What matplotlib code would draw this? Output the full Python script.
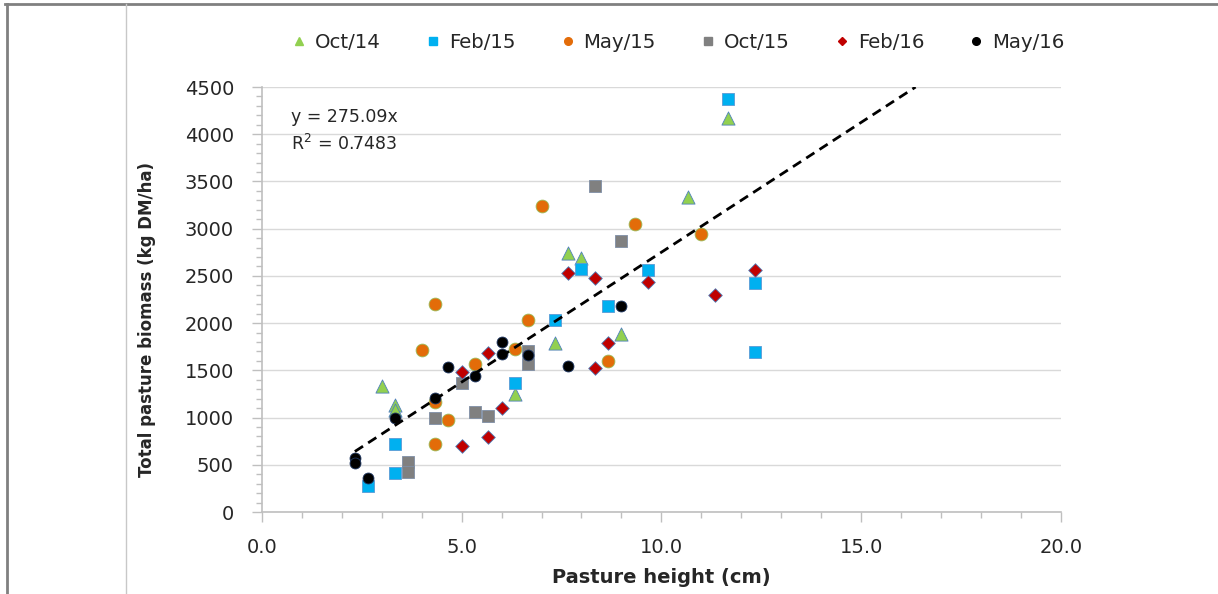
import matplotlib
matplotlib.use("Agg")
import matplotlib.pyplot as plt
from matplotlib.lines import Line2D
import numpy as np

plt.rcParams['font.family'] = ['DejaVu Sans']

# ---- data ----
series_names = ["Oct/14", "Feb/15", "May/15", "Oct/15", "Feb/16", "May/16"]

oct14_x = [3.0, 3.33, 3.33, 6.33, 7.33, 7.67, 8.0, 9.0, 10.67, 11.67]
oct14_y = [1330, 1135, 1085, 1245, 1790, 2740, 2690, 1890, 3340, 4175]

feb15_x = [2.67, 3.33, 3.33, 6.33, 7.33, 8.0, 8.67, 9.67, 11.67, 12.33, 12.33]
feb15_y = [280, 415, 725, 1370, 2030, 2570, 2180, 2565, 4370, 2430, 1690]

may15_x = [4.0, 4.33, 4.33, 4.33, 4.67, 5.33, 6.33, 6.67, 7.0, 8.67, 9.33, 11.0]
may15_y = [1720, 2200, 1160, 725, 975, 1565, 1730, 2030, 3245, 1600, 3050, 2945]

oct15_x = [3.67, 3.67, 4.33, 5.0, 5.33, 5.67, 6.67, 6.67, 8.33, 9.0]
oct15_y = [530, 425, 1000, 1370, 1060, 1020, 1700, 1570, 3450, 2870]

feb16_x = [5.0, 5.0, 5.67, 5.67, 6.0, 7.67, 8.33, 8.33, 8.67, 9.67, 11.33, 12.33]
feb16_y = [1480, 695, 1680, 790, 1100, 2530, 2480, 1520, 1790, 2440, 2295, 2565]

may16_x = [2.33, 2.33, 2.67, 3.33, 4.33, 4.67, 5.33, 6.0, 6.0, 6.67, 7.67, 9.0]
may16_y = [570, 520, 355, 1000, 1205, 1540, 1440, 1795, 1670, 1660, 1550, 2180]

trend_slope = 275.09
trend_r2 = 0.7483

x_ticks = [0.0, 5.0, 10.0, 15.0, 20.0]
y_ticks = [0, 500, 1000, 1500, 2000, 2500, 3000, 3500, 4000, 4500]

# ---- styles ----
styles = [
    dict(marker="^", color="#92D050", edge="#4F81BD", s=90),
    dict(marker="s", color="#00B0F0", edge="#5B9BD5", s=75),
    dict(marker="o", color="#E36C09", edge="#9BBB59", s=85),
    dict(marker="s", color="#808080", edge="#7F8FA6", s=75),
    dict(marker="D", color="#C00000", edge="#4F81BD", s=48),
    dict(marker="o", color="#000000", edge="#1F3864", s=62),
]
all_x = [oct14_x, feb15_x, may15_x, oct15_x, feb16_x, may16_x]
all_y = [oct14_y, feb15_y, may15_y, oct15_y, feb16_y, may16_y]

fig = plt.figure(figsize=(12.18, 5.94), dpi=100)
ax = fig.add_axes([0.2149, 0.1380, 0.6563, 0.7155])

handles = []
for name, xs, ys, st in zip(series_names, all_x, all_y, styles):
    ax.scatter(xs, ys, marker=st["marker"], s=st["s"], facecolor=st["color"],
               edgecolor=st["edge"], linewidths=0.6, zorder=3)
    handles.append(Line2D([], [], linestyle="none", marker=st["marker"],
                          markerfacecolor=st["color"], markeredgecolor=st["color"],
                          markersize=5.5 if st["marker"] != "D" else 4.5, label=name))

# trendline
xmin = min(min(v) for v in all_x)
tx = np.array([xmin, 4500 / trend_slope])
ax.plot(tx, trend_slope * tx, color="black", lw=2.0, ls=(0, (3.5, 2.2)), zorder=4)

ax.text(0.036, 0.95, f"y = {trend_slope}x\nR$^2$ = {trend_r2}", transform=ax.transAxes,
        fontsize=12.5, va="top", ha="left", color="#262626", linespacing=1.45)

ax.set_xlim(0, 20)
ax.set_ylim(0, 4500)
ax.set_xticks(x_ticks)
ax.set_xticklabels([f"{v:.1f}" for v in x_ticks])
ax.set_yticks(y_ticks)
ax.set_xticks(np.arange(0, 20.01, 1.0), minor=True)
ax.set_yticks(np.arange(0, 4501, 100), minor=True)

ax.grid(axis="y", which="major", color="#D9D9D9", lw=1.0)
ax.set_axisbelow(True)
for sp in ["top", "right"]:
    ax.spines[sp].set_visible(False)
for sp in ["left", "bottom"]:
    ax.spines[sp].set_color("#BFBFBF")
    ax.spines[sp].set_linewidth(1.2)

ax.tick_params(axis="both", which="major", length=7, width=1, color="#BFBFBF",
               labelsize=14, labelcolor="#262626", pad=13)
ax.tick_params(axis="both", which="minor", length=4, width=1, color="#BFBFBF")
ax.tick_params(axis="x", which="major", pad=12)

ax.set_xlabel("Pasture height (cm)", fontsize=14, fontweight="bold", color="#262626",
              va="center")
ax.xaxis.set_label_coords(0.5, -0.155)
ax.set_ylabel("Total pasture biomass (kg DM/ha)", fontsize=12, fontweight="bold",
              color="#262626", va="center")
ax.yaxis.set_label_coords(-0.143, 0.452)

fig.legend(handles=handles, loc="center", bbox_to_anchor=(0.557, 0.928), ncol=6,
           frameon=False, fontsize=14.2, handlelength=0.7, handletextpad=0.45,
           columnspacing=2.3, labelcolor="#262626")

# frame lines from the page
fig.add_artist(Line2D([0.004, 1.0], [0.9925, 0.9925], transform=fig.transFigure,
                      color="#808080", lw=2.0))
fig.add_artist(Line2D([0.0055, 0.0055], [0.0, 0.9925], transform=fig.transFigure,
                      color="#808080", lw=2.0))
fig.add_artist(Line2D([0.1032, 0.1032], [0.0, 0.9925], transform=fig.transFigure,
                      color="#C8C8C8", lw=1.0))

fig.savefig("out.png", dpi=100)
